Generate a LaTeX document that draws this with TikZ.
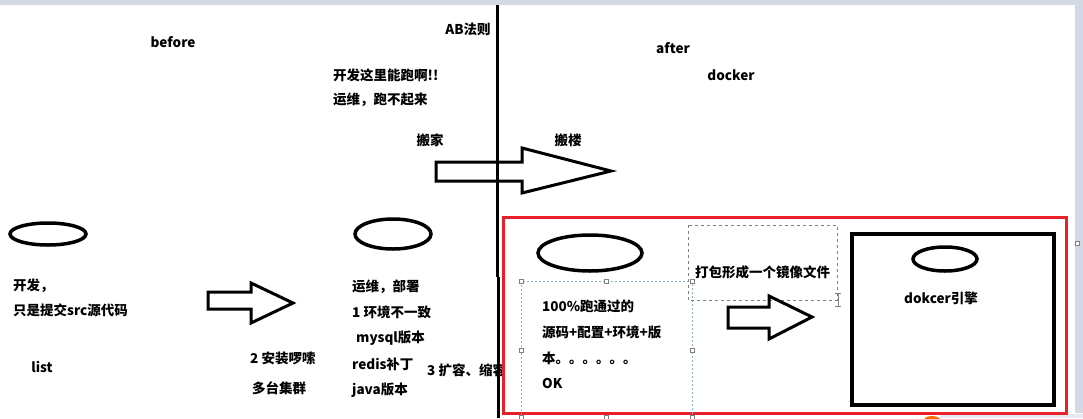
\documentclass[tikz,border=0pt]{standalone}
\usepackage{fontspec}
\setmainfont{Noto Sans CJK SC}
\usepackage{tikz}
\usetikzlibrary{positioning}
\definecolor{barblue}{HTML}{D3DAE5}
\definecolor{boxred}{HTML}{E8202A}
\definecolor{selblue}{HTML}{86B6D2}
\definecolor{handlegray}{HTML}{808080}

\begin{document}
\begin{tikzpicture}[x=1pt, y=-1pt, font=\fontsize{13.5pt}{16pt}\selectfont\bfseries,
    lbl/.style={inner sep=0pt},
    lft/.style={inner sep=0pt, anchor=west},
    heavy/.style={line width=3pt, line join=miter},
    ring/.style={line width=3.5pt},
    handle/.style={draw=handlegray, fill=white, line width=0.6pt}]
  \useasboundingbox (0,0) rectangle (1083,418);
  % window frame
  \fill[barblue] (0,0) rectangle (1083,5);
  \fill[barblue] (1075,5) rectangle (1083,413);
  \fill[barblue!60] (940,414) rectangle (1083,418);
  \fill[orange!85!red] (932,420) ellipse [x radius=8, y radius=4];
  \draw[handle] (1075,241) rectangle (1079,245);

  % titles
  \node[lbl] (before) at (173,42) {before};
  \node[lbl] (abrule) at (468,29) {AB法则};
  \node[lbl] (after) at (673,48) {after};
  \node[lbl] (docker) at (731,75) {docker};
  \node[lft] (devok) at (333,75) {开发这里能跑啊!!};
  \node[lft] (opsfail) at (333,100) {运维，跑不起来};
  \node[lbl] (move1) at (430,140) {搬家};
  \node[lbl] (move2) at (568,140) {搬楼};

  % big arrow across the divider
  \draw[heavy] (436,162) -- (522,162) -- (522,148) -- (611,171)
    -- (522,193) -- (522,181) -- (436,181) -- cycle;

  % before: developer side
  \draw[ring] (48,234) ellipse [x radius=38, y radius=11];
  \node[lft] (dev) at (13,286) {开发，};
  \node[lft] (devsrc) at (13,310) {只是提交src源代码};
  \node[lbl] (list) at (42,367) {list};
  \draw[heavy] (208,292) -- (251,292) -- (251,283) -- (293,303)
    -- (251,323) -- (251,309) -- (208,309) -- cycle;
  \node[lft] (install) at (250,358) {2 安装啰嗦};
  \node[lft] (cluster) at (252,388) {多台集群};

  % before: ops side
  \draw[ring] (393,234) ellipse [x radius=38, y radius=15];
  \node[lft] (ops) at (352,287) {运维，部署};
  \node[lft] (env) at (352,312) {1 环境不一致};
  \node[lft] (mysql) at (356,338) {mysql版本};
  \node[lft] (redis) at (352,364) {redis补丁};
  \node[lft] (java) at (352,390) {java版本};
  \begin{scope}
    \clip (0,0) rectangle (502,418);
    \node[lft] (scale) at (427,370) {3 扩容、缩容};
  \end{scope}

  % divider
  \draw[line width=3pt] (497,5) -- (497,277);
  \draw[line width=3pt] (498.5,277) -- (498.5,418);

  % after: docker box
  \draw[boxred, line width=3pt] (503,217) rectangle (1066,413);
  \draw[ring] (590,253) ellipse [x radius=52, y radius=18];
  \draw[selblue, line width=1pt, dash pattern=on 2pt off 2pt] (521,281) rectangle (692,420);
  \foreach \hx/\hy in {521/281, 606/281, 692/281, 521/350, 692/350,
                       521/417, 606/417, 692/417}
    \draw[handle] (\hx-2,\hy-2) rectangle (\hx+2,\hy+2);
  \node[lft] (pass) at (542,306) {100\%跑通过的};
  \node[lft] (parts) at (542,332) {源码+配置+环境+版};
  \node[lft] (ver) at (542,358) {本。。。。。。};
  \node[lft] (ok) at (542,383) {OK};
  \draw[handlegray, line width=1pt, dash pattern=on 3pt off 3pt] (688,225) rectangle (837,300);
  \node[lft] (pack) at (695,272) {打包形成一个镜像文件};
  \draw[handlegray, line width=0.7pt] (835,293) -- (841,293)
    (838,293) -- (838,306) (835,306) -- (841,306);
  \draw[heavy] (728,307) -- (769,307) -- (769,296) -- (812,317)
    -- (769,339) -- (769,328) -- (728,328) -- cycle;
  \draw[line width=4pt] (852,234) rectangle (1054,405);
  \draw[ring] (945,259) ellipse [x radius=32, y radius=12];
  \node[lbl] (engine) at (941,298) {dokcer引擎};
\end{tikzpicture}
\end{document}
